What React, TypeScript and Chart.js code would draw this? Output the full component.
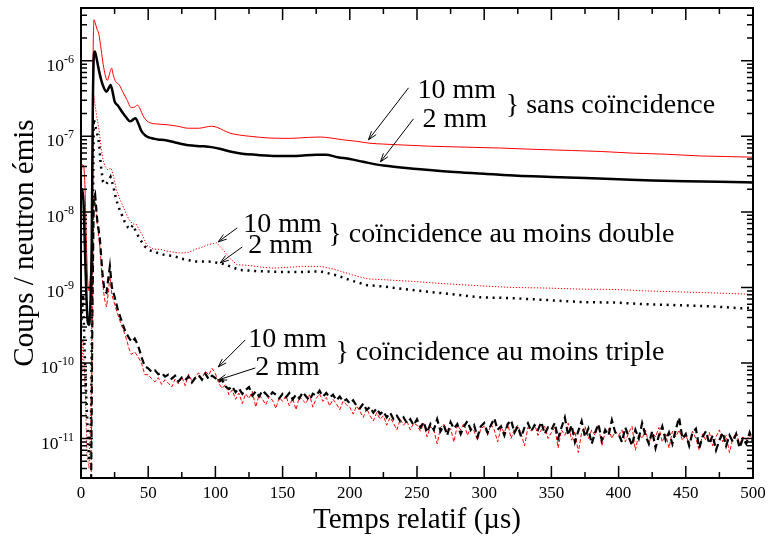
import { useEffect, useRef } from "react";
import { Chart, registerables } from "chart.js";

Chart.register(...registerables);

// ---------- DATA (time in µs, counts per emitted neutron) ----------
// Sans coïncidence
const sans10mm: [number, number][] = [
  [0, 3e-8], [1, 4.2e-8], [2, 4e-8], [3, 2e-8], [4, 4e-9], [5, 1.2e-9], [6, 9e-10], [7, 1.5e-9], [8, 5e-9],
  [8.8, 6e-7], [9.7, 3.5e-6], [10.5, 3.2e-6], [12, 2.6e-6], [13.2, 2.3e-6], [15, 1.4e-6], [16.5, 9e-7],
  [18, 6.5e-7], [19.6, 5.5e-7], [21, 6.5e-7], [22.8, 8e-7], [24, 6.5e-7], [25.8, 5.3e-7], [28.5, 4.8e-7],
  [31, 3.9e-7], [34, 3.1e-7], [37.5, 2.4e-7], [40, 2.45e-7], [42, 2.6e-7], [44, 2.3e-7], [46, 1.9e-7],
  [49, 1.6e-7], [52, 1.5e-7], [58, 1.45e-7], [65, 1.42e-7], [72, 1.36e-7], [80, 1.28e-7], [88, 1.28e-7],
  [93, 1.33e-7], [97, 1.36e-7], [101, 1.32e-7], [106, 1.2e-7], [111, 1.1e-7], [118, 1.04e-7], [126, 1.0e-7],
  [140, 9.5e-8], [155, 9.4e-8], [170, 9.7e-8], [178, 9.8e-8], [186, 9.5e-8], [195, 9e-8], [205, 8.6e-8],
  [215, 8.1e-8], [225, 7.9e-8], [238, 7.7e-8], [260, 7.4e-8], [285, 7.2e-8], [312, 7.0e-8], [340, 6.7e-8],
  [365, 6.5e-8], [387, 6.3e-8], [410, 6.0e-8], [435, 5.8e-8], [461, 5.5e-8], [480, 5.4e-8], [500, 5.3e-8],
];
const sans2mm: [number, number][] = [
  [0, 1.5e-8], [1, 2e-8], [2, 1.2e-8], [3, 3e-9], [4, 8e-10], [5, 3.5e-10], [6, 3.2e-10], [7, 6e-10], [8, 4e-9],
  [8.8, 2.5e-7], [9.7, 1.25e-6], [10.3, 1.33e-6], [11.5, 1.1e-6], [13, 8e-7], [15, 5.6e-7], [17, 4.4e-7],
  [19, 3.9e-7], [20.5, 4.3e-7], [22, 4.8e-7], [23.5, 3.9e-7], [25, 2.9e-7], [27.5, 2.55e-7], [31, 2.05e-7],
  [34, 1.75e-7], [36.5, 1.58e-7], [39, 1.68e-7], [40.5, 1.74e-7], [42.5, 1.5e-7], [45, 1.17e-7], [48, 1.02e-7],
  [51, 9.6e-8], [57, 9.1e-8], [63, 8.9e-8], [70, 8.3e-8], [80, 7.6e-8], [90, 7.4e-8], [97, 7.2e-8],
  [104, 6.8e-8], [111, 6.3e-8], [120, 5.9e-8], [130, 5.7e-8], [145, 5.5e-8], [160, 5.5e-8], [175, 5.7e-8],
  [182, 5.7e-8], [191, 5.3e-8], [200, 5.0e-8], [210, 4.6e-8], [225, 4.1e-8], [250, 3.7e-8], [275, 3.4e-8],
  [300, 3.2e-8], [325, 3.0e-8], [350, 2.9e-8], [375, 2.8e-8], [400, 2.7e-8], [425, 2.6e-8], [450, 2.55e-8],
  [475, 2.5e-8], [500, 2.45e-8],
];

// Coïncidence au moins double
const double10mm: [number, number][] = [
  [0, 4e-11], [1.5, 2e-10], [3, 5e-11], [4.5, 6e-12], [6, 4e-12], [7.5, 3e-11], [8.5, 5e-9], [9.5, 3.5e-7],
  [10.5, 2.6e-7], [12, 1.7e-7], [13.5, 1.2e-7], [15, 7e-8], [16.5, 4.8e-8], [18, 4e-8], [20, 3.6e-8],
  [22.5, 3.8e-8], [24.5, 2.8e-8], [26.5, 1.9e-8], [29.5, 1.4e-8], [32.5, 1.05e-8], [35.5, 8e-9],
  [38.5, 6.9e-9], [41, 6.9e-9], [43, 6e-9], [45.5, 5e-9], [49, 3.6e-9], [54, 3.2e-9], [59, 3.2e-9],
  [65, 3.0e-9], [70, 2.9e-9], [75, 2.85e-9], [80, 2.9e-9], [85, 3.2e-9], [90, 3.4e-9], [95, 3.7e-9],
  [101, 3.9e-9], [106, 3.1e-9], [111, 2.4e-9], [116, 2.0e-9], [125, 1.95e-9], [135, 1.85e-9], [143, 1.8e-9],
  [155, 1.85e-9], [165, 1.9e-9], [178, 1.9e-9], [188, 1.75e-9], [200, 1.5e-9], [213, 1.3e-9], [230, 1.25e-9],
  [248, 1.2e-9], [270, 1.12e-9], [297, 1.05e-9], [320, 1.0e-9], [347, 9.8e-10], [372, 9.5e-10],
  [397, 9.4e-10], [420, 9.0e-10], [447, 8.7e-10], [475, 8.4e-10], [500, 8.1e-10],
];
const double2mm: [number, number][] = [
  [0, 3e-10], [1.5, 8e-10], [3, 1e-10], [4.5, 2e-11], [6, 5e-12], [7.5, 2e-11], [8.5, 2e-9], [9.5, 1.7e-7],
  [11, 1.3e-7], [12.5, 1e-7], [13.5, 8e-8], [14.7, 4.2e-8], [16.4, 2.5e-8], [18.5, 2.3e-8], [20, 2.5e-8],
  [22, 2.9e-8], [24, 2.2e-8], [26, 1.5e-8], [27.6, 1.2e-8], [30, 9.5e-9], [32.5, 7.4e-9], [35, 6.2e-9],
  [36.5, 5.9e-9], [38.7, 6.7e-9], [41, 5.4e-9], [43.7, 4.4e-9], [47.4, 3.5e-9], [51, 3.1e-9], [56, 2.9e-9],
  [62, 2.7e-9], [69, 2.6e-9], [75, 2.4e-9], [85, 2.2e-9], [95, 2.2e-9], [104, 2.1e-9], [111, 1.9e-9],
  [118, 1.7e-9], [130, 1.65e-9], [148, 1.6e-9], [165, 1.6e-9], [178, 1.63e-9], [190, 1.45e-9], [200, 1.25e-9],
  [213, 1.07e-9], [225, 1.03e-9], [240, 9.5e-10], [260, 8.7e-10], [280, 8e-10], [297, 7.4e-10], [322, 7.2e-10],
  [347, 6.8e-10], [372, 6.4e-10], [397, 6.3e-10], [420, 6.0e-10], [446, 5.8e-10], [470, 5.6e-10],
  [491, 5.3e-10], [500, 5.4e-10],
];

// Coïncidence au moins triple : early part (t < 50 µs)
const triple10mmEarly: [number, number][] = [
  [6, 1e-12], [7.5, 2e-12], [8.5, 8e-10], [9.5, 1.6e-8], [10.5, 1.5e-8], [12, 7e-9], [14, 3.5e-9], [16, 1.2e-9],
  [17.5, 7e-10], [19, 5.5e-10], [20.5, 9e-10], [21.5, 1.4e-9], [23, 8e-10], [25, 6e-10], [27.5, 4.3e-10],
  [30, 3.2e-10], [33, 2.3e-10], [36, 1.5e-10], [37.5, 1.3e-10], [40, 1.4e-10], [42.5, 1.2e-10], [45, 1.0e-10],
  [47.5, 7e-11],
];
const triple2mmEarly: [number, number][] = [
  [6, 1e-12], [7.5, 2e-12], [8.5, 5e-10], [9.5, 1.5e-8], [10.5, 1.7e-8], [12, 8e-9], [14, 4.5e-9], [16, 1.5e-9],
  [17.5, 9e-10], [19, 8.5e-10], [20.5, 1.4e-9], [21.5, 1.9e-9], [23, 1e-9], [25, 7.5e-10], [27.5, 5e-10],
  [30, 3.7e-10], [33, 2.6e-10], [36, 2.1e-10], [38, 1.9e-10], [40, 2.1e-10], [42.5, 1.7e-10], [45, 1.2e-10],
  [47.5, 9e-11],
];
// Triple, 50 → 500 µs, one value every 2.5 µs (noisy counting statistics)
const TRIPLE_LATE_START = 50;
const TRIPLE_LATE_STEP = 2.5;
const triple2mmLate: number[] = [
  8.5e-11, 7.6e-11, 8.0e-11, 7.1e-11, 7.4e-11, 6.6e-11, 7.0e-11, 6.2e-11, 6.8e-11, 5.7e-11, 6.4e-11, 5.9e-11, 6.6e-11, 5.5e-11, 6.3e-11, 6.9e-11, 6.0e-11, 7.2e-11, 6.1e-11, 6.8e-11,
  6.3e-11, 5.6e-11, 6.0e-11, 4.9e-11, 4.5e-11, 4.9e-11, 4.1e-11, 4.6e-11, 3.9e-11, 4.4e-11, 4.8e-11, 3.7e-11, 4.2e-11, 3.6e-11, 4.3e-11, 3.9e-11, 3.5e-11, 4.1e-11, 3.8e-11, 3.4e-11,
  3.9e-11, 3.5e-11, 4.0e-11, 3.3e-11, 3.8e-11, 3.4e-11, 4.1e-11, 3.6e-11, 3.2e-11, 3.9e-11, 3.7e-11, 4.3e-11, 3.6e-11, 4.0e-11, 3.5e-11, 3.8e-11, 3.2e-11, 3.6e-11, 3.1e-11, 3.3e-11,
  2.9e-11, 3.2e-11, 2.7e-11, 2.5e-11, 2.9e-11, 2.4e-11, 2.6e-11, 2.2e-11, 2.5e-11, 2.1e-11, 2.3e-11, 1.9e-11, 2.2e-11, 1.8e-11, 2.0e-11, 1.7e-11, 1.9e-11, 1.6e-11, 1.8e-11, 1.5e-11,
  1.8e-11, 1.4e-11, 1.65e-11, 1.2e-11, 1.55e-11, 1.3e-11, 1.8e-11, 1.25e-11, 1.5e-11, 1.1e-11, 1.65e-11, 1.35e-11, 1.55e-11, 1.15e-11, 1.45e-11, 1.7e-11, 1.3e-11, 1.5e-11, 1.05e-11, 1.45e-11,
  1.6e-11, 1.2e-11, 1.5e-11, 1.85e-11, 1.3e-11, 1.45e-11, 1.1e-11, 1.55e-11, 1.75e-11, 1.2e-11, 1.45e-11, 1.05e-11, 1.4e-11, 1.6e-11, 1.25e-11, 1.5e-11, 1.3e-11, 1.65e-11, 1.15e-11, 1.4e-11,
  1.3e-11, 1.6e-11, 1.0e-11, 1.4e-11, 1.9e-11, 1.1e-11, 1.5e-11, 0.9e-11, 1.25e-11, 1.7e-11, 1.05e-11, 1.35e-11, 0.85e-11, 1.2e-11, 1.55e-11, 0.95e-11, 1.3e-11, 1.1e-11, 1.75e-11, 1.2e-11,
  1.15e-11, 0.9e-11, 1.4e-11, 1.05e-11, 0.8e-11, 1.3e-11, 1.0e-11, 1.6e-11, 1.1e-11, 0.85e-11, 1.25e-11, 0.75e-11, 1.1e-11, 1.45e-11, 0.95e-11, 1.2e-11, 0.85e-11, 1.3e-11, 1.9e-11, 1.0e-11,
  1.15e-11, 0.8e-11, 1.2e-11, 1.35e-11, 0.75e-11, 1.05e-11, 1.25e-11, 0.85e-11, 1.1e-11, 0.7e-11, 0.95e-11, 1.2e-11, 0.8e-11, 1.1e-11, 0.9e-11, 1.15e-11, 0.75e-11, 1.0e-11, 0.85e-11, 1.2e-11,
  0.9e-11,
];
const triple10mmLate: number[] = [
  7.0e-11, 6.2e-11, 5.6e-11, 6.4e-11, 5.2e-11, 6.0e-11, 5.4e-11, 4.8e-11, 6.1e-11, 5.3e-11, 6.6e-11, 5.0e-11, 7.1e-11, 5.8e-11, 6.5e-11, 7.4e-11, 6.2e-11, 7.8e-11, 6.9e-11, 8.5e-11,
  7.2e-11, 5.4e-11, 4.6e-11, 5.2e-11, 3.8e-11, 4.4e-11, 3.3e-11, 4.0e-11, 2.9e-11, 3.9e-11, 3.4e-11, 4.2e-11, 2.6e-11, 3.8e-11, 3.3e-11, 2.8e-11, 3.6e-11, 3.2e-11, 2.5e-11, 3.5e-11,
  3.1e-11, 3.7e-11, 2.7e-11, 3.4e-11, 2.4e-11, 3.6e-11, 3.2e-11, 2.9e-11, 3.8e-11, 2.6e-11, 3.4e-11, 3.9e-11, 3.1e-11, 3.5e-11, 2.7e-11, 3.3e-11, 2.9e-11, 2.4e-11, 3.1e-11, 2.8e-11,
  2.6e-11, 2.1e-11, 2.7e-11, 2.3e-11, 1.9e-11, 2.5e-11, 2.0e-11, 1.7e-11, 2.2e-11, 1.8e-11, 2.0e-11, 1.5e-11, 1.9e-11, 1.6e-11, 1.3e-11, 1.8e-11, 1.5e-11, 1.7e-11, 1.3e-11, 1.6e-11,
  1.5e-11, 1.25e-11, 1.6e-11, 1.05e-11, 1.45e-11, 1.3e-11, 0.85e-11, 1.4e-11, 1.55e-11, 1.2e-11, 1.35e-11, 0.9e-11, 1.5e-11, 1.3e-11, 1.6e-11, 1.1e-11, 1.4e-11, 1.25e-11, 0.95e-11, 1.35e-11,
  1.45e-11, 1.1e-11, 1.55e-11, 1.3e-11, 0.9e-11, 1.4e-11, 1.2e-11, 1.6e-11, 1.0e-11, 1.35e-11, 1.5e-11, 1.15e-11, 0.8e-11, 1.4e-11, 1.25e-11, 1.55e-11, 1.1e-11, 1.3e-11, 1.45e-11, 1.0e-11,
  1.2e-11, 1.4e-11, 0.75e-11, 1.3e-11, 1.1e-11, 1.6e-11, 0.95e-11, 1.25e-11, 0.65e-11, 1.2e-11, 1.45e-11, 1.0e-11, 1.3e-11, 1.1e-11, 1.5e-11, 0.8e-11, 1.2e-11, 1.35e-11, 1.0e-11, 1.25e-11,
  1.1e-11, 1.3e-11, 0.9e-11, 1.2e-11, 1.45e-11, 0.7e-11, 1.15e-11, 1.0e-11, 1.3e-11, 0.85e-11, 1.2e-11, 1.05e-11, 1.4e-11, 0.9e-11, 1.15e-11, 0.75e-11, 1.25e-11, 1.05e-11, 1.3e-11, 0.95e-11,
  1.1e-11, 0.85e-11, 1.25e-11, 1.0e-11, 0.7e-11, 1.15e-11, 0.95e-11, 1.2e-11, 0.8e-11, 1.05e-11, 1.3e-11, 0.9e-11, 1.1e-11, 0.65e-11, 1.0e-11, 1.2e-11, 0.85e-11, 1.05e-11, 0.95e-11, 1.1e-11,
  1.0e-11,
];

// Axes
const X_MIN = 0;
const X_MAX = 500;
const Y_MIN = 3e-12;
const Y_MAX = 5e-6;
const xMajorTicks = [0, 50, 100, 150, 200, 250, 300, 350, 400, 450, 500];
const xMinorTicks = [25, 75, 125, 175, 225, 275, 325, 375, 425, 475];
const yDecadeExponents = [-11, -10, -9, -8, -7, -6];
const xTitle = "Temps relatif (µs)";
const yTitle = "Coups / neutron émis";

// Annotations (positions in data space: t in µs, e = log10 of value)
const labels = [
  { text: "10 mm", t: 250.4, e: -6.49 },
  { text: "2 mm", t: 254, e: -6.874 },
  { text: "} sans coïncidence", t: 316, e: -6.689 },
  { text: "10 mm", t: 120.7, e: -8.265 },
  { text: "2 mm", t: 124.4, e: -8.543 },
  { text: "} coïncidence au moins double", t: 184, e: -8.397 },
  { text: "10 mm", t: 124.4, e: -9.788 },
  { text: "2 mm", t: 129.7, e: -10.159 },
  { text: "} coïncidence au moins triple", t: 189.3, e: -9.96 },
];
const arrows = [
  { t1: 243.7, e1: -6.358, t2: 213.9, e2: -7.046 },
  { t1: 247.4, e1: -6.768, t2: 222.8, e2: -7.338 },
  { t1: 116.2, e1: -8.212, t2: 102.1, e2: -8.397 },
  { t1: 120, e1: -8.464, t2: 103.6, e2: -8.675 },
  { t1: 122.2, e1: -9.695, t2: 102.1, e2: -10.053 },
  { t1: 129.7, e1: -10.066, t2: 102.1, e2: -10.225 },
];

const SERIF = "'Liberation Serif', 'Times New Roman', serif";

function pairsToPoints(p: [number, number][]) {
  return p.map(([x, y]) => ({ x, y }));
}
function tripleSeries(early: [number, number][], late: number[]) {
  const pts = pairsToPoints(early);
  late.forEach((v, i) => pts.push({ x: TRIPLE_LATE_START + i * TRIPLE_LATE_STEP, y: v }));
  return pts;
}

const framePlugin = {
  id: "graceFrame",
  afterDatasetsDraw(chart: any) {
    const { ctx, chartArea: a, scales } = chart;
    const xs = scales.x;
    const ys = scales.y;
    ctx.save();
    ctx.strokeStyle = "#000";
    ctx.fillStyle = "#000";

    // ticks
    ctx.lineWidth = 1.5;
    const vTick = (px: number, len: number) => {
      ctx.beginPath();
      ctx.moveTo(px, a.bottom);
      ctx.lineTo(px, a.bottom - len);
      ctx.moveTo(px, a.top);
      ctx.lineTo(px, a.top + len);
      ctx.stroke();
    };
    const hTick = (py: number, len: number) => {
      ctx.beginPath();
      ctx.moveTo(a.left, py);
      ctx.lineTo(a.left + len, py);
      ctx.moveTo(a.right, py);
      ctx.lineTo(a.right - len, py);
      ctx.stroke();
    };
    xMajorTicks.forEach((t) => vTick(xs.getPixelForValue(t), 12));
    xMinorTicks.forEach((t) => vTick(xs.getPixelForValue(t), 6));
    for (let k = -12; k <= -6; k++) {
      for (let m = 1; m <= 9; m++) {
        const v = m * Math.pow(10, k);
        if (v < Y_MIN || v > Y_MAX) continue;
        hTick(ys.getPixelForValue(v), m === 1 ? 12 : 6);
      }
    }

    // frame
    ctx.lineWidth = 2;
    ctx.strokeRect(a.left, a.top, a.right - a.left, a.bottom - a.top);

    // x tick labels
    ctx.font = `17px ${SERIF}`;
    ctx.textAlign = "center";
    ctx.textBaseline = "alphabetic";
    xMajorTicks.forEach((t) => ctx.fillText(String(t), xs.getPixelForValue(t), a.bottom + 20));

    // y tick labels 10^k
    yDecadeExponents.forEach((k) => {
      const py = ys.getPixelForValue(Math.pow(10, k));
      const exp = String(k);
      ctx.font = `12px ${SERIF}`;
      const we = ctx.measureText(exp).width;
      const xr = a.left - 7;
      ctx.textAlign = "left";
      ctx.fillText(exp, xr - we, py + 2);
      ctx.font = `17.5px ${SERIF}`;
      ctx.textAlign = "right";
      ctx.fillText("10", xr - we, py + 10);
    });

    // axis titles
    ctx.font = `29px ${SERIF}`;
    ctx.textAlign = "center";
    ctx.fillText(xTitle, (a.left + a.right) / 2, 528);
    ctx.save();
    ctx.translate(33, (a.top + a.bottom) / 2);
    ctx.rotate(-Math.PI / 2);
    ctx.fillText(yTitle, 0, 0);
    ctx.restore();

    // annotations
    ctx.font = `28px ${SERIF}`;
    ctx.textAlign = "left";
    labels.forEach((l) => {
      ctx.fillText(l.text, xs.getPixelForValue(l.t), ys.getPixelForValue(Math.pow(10, l.e)));
    });
    ctx.lineWidth = 1;
    arrows.forEach((ar) => {
      const x1 = xs.getPixelForValue(ar.t1);
      const y1 = ys.getPixelForValue(Math.pow(10, ar.e1));
      const x2 = xs.getPixelForValue(ar.t2);
      const y2 = ys.getPixelForValue(Math.pow(10, ar.e2));
      ctx.beginPath();
      ctx.moveTo(x1, y1);
      ctx.lineTo(x2, y2);
      const ang = Math.atan2(y2 - y1, x2 - x1);
      const L = 9;
      const spread = 0.32;
      ctx.moveTo(x2 - L * Math.cos(ang - spread), y2 - L * Math.sin(ang - spread));
      ctx.lineTo(x2, y2);
      ctx.lineTo(x2 - L * Math.cos(ang + spread), y2 - L * Math.sin(ang + spread));
      ctx.stroke();
    });
    ctx.restore();
  },
};

export default function App() {
  const ref = useRef<HTMLCanvasElement>(null);
  useEffect(() => {
    if (!ref.current) return;
    const smooth = { tension: 0.4, cubicInterpolationMode: "monotone" as const };
    const chart = new Chart(ref.current, {
      type: "line",
      data: {
        datasets: [
          { label: "sans coïncidence 2 mm", data: pairsToPoints(sans2mm), borderColor: "#000", borderWidth: 2.5, ...smooth },
          { label: "sans coïncidence 10 mm", data: pairsToPoints(sans10mm), borderColor: "#ff0000", borderWidth: 1, ...smooth },
          { label: "double 2 mm", data: pairsToPoints(double2mm), borderColor: "#000", borderWidth: 2.5, borderDash: [2, 4.7], tension: 0 },
          { label: "double 10 mm", data: pairsToPoints(double10mm), borderColor: "#ff0000", borderWidth: 1, borderDash: [1.3, 1.7], tension: 0 },
          { label: "triple 2 mm", data: tripleSeries(triple2mmEarly, triple2mmLate), borderColor: "#000", borderWidth: 2.2, borderDash: [7, 4], tension: 0 },
          { label: "triple 10 mm", data: tripleSeries(triple10mmEarly, triple10mmLate), borderColor: "#ff0000", borderWidth: 1, borderDash: [4, 2], tension: 0 },
        ],
      },
      options: {
        animation: false,
        responsive: false,
        layout: { padding: { left: 81, right: 17, top: 8, bottom: 70 } },
        elements: { point: { radius: 0 } },
        scales: {
          x: { type: "linear", min: X_MIN, max: X_MAX, display: false },
          y: { type: "logarithmic", min: Y_MIN, max: Y_MAX, display: false },
        },
        plugins: { legend: { display: false }, tooltip: { enabled: false } },
      },
      plugins: [framePlugin],
    });
    return () => chart.destroy();
  }, []);
  return (
    <div style={{ position: "fixed", left: 0, top: 0, width: 770, height: 548, background: "#fff" }}>
      <canvas ref={ref} width={770} height={548} style={{ display: "block", width: 770, height: 548 }} />
    </div>
  );
}
